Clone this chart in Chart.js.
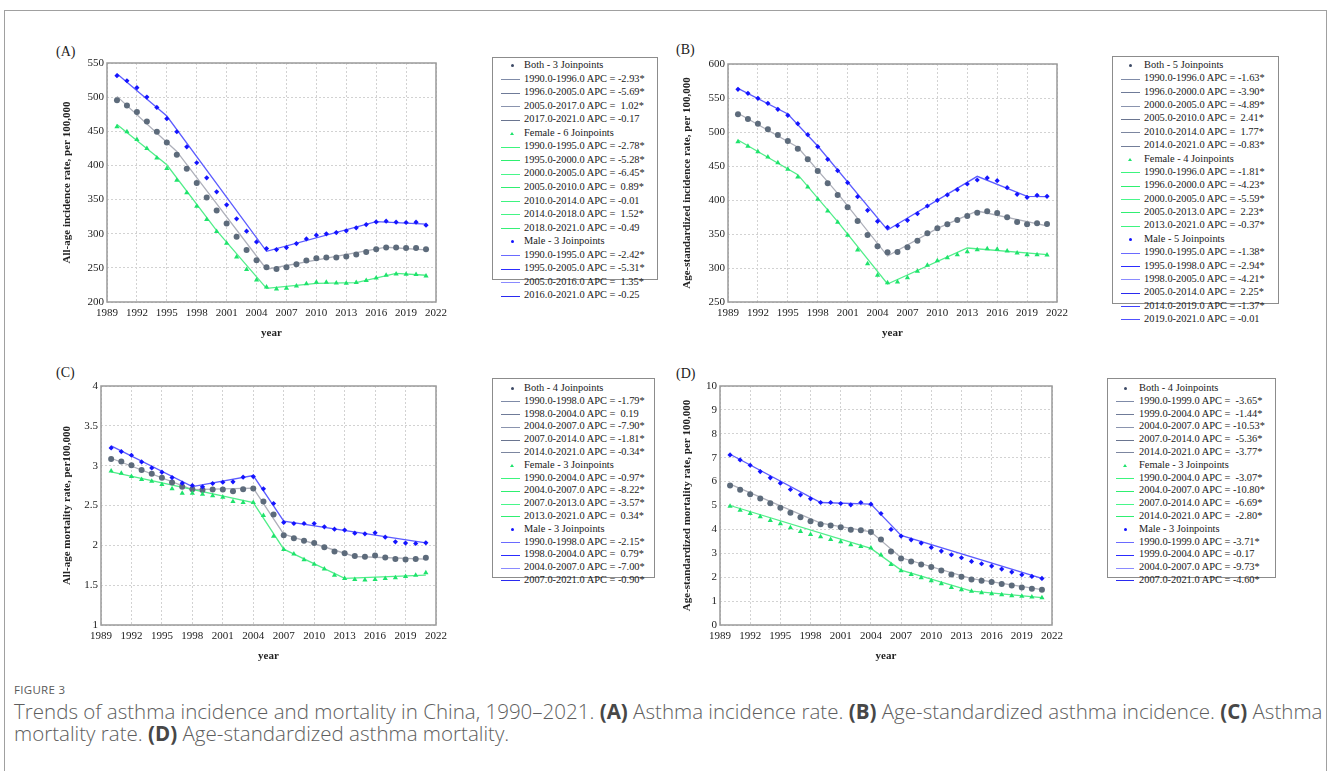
<!DOCTYPE html>
<html><head><meta charset="utf-8">
<script src="https://cdn.jsdelivr.net/npm/chart.js@4.4.0/dist/chart.umd.min.js"></script>
<style>
html,body{margin:0;padding:0;background:#fff;width:1328px;height:771px;overflow:hidden;}
#frame{position:absolute;left:4px;top:10px;width:1323px;height:820px;border:1px solid #a0a0a0;box-sizing:border-box;}
canvas{position:absolute;}
.plab{position:absolute;font-family:"Liberation Serif","Times New Roman",serif;font-size:14px;color:#222;line-height:16px;}
.leg{position:absolute;border:1px solid #8c8c8c;box-sizing:border-box;font-family:"Liberation Serif","Times New Roman",serif;font-size:10.4px;color:#1a1a1a;background:#fff;}
.row{position:absolute;white-space:pre;line-height:12px;height:12px;}
.seg{position:absolute;height:0;border-top:1.3px solid #777;}
.mk{position:absolute;}
#fig{position:absolute;left:14px;top:682px;font-family:"Open Sans",sans-serif;font-size:11.5px;color:#5a5a5a;letter-spacing:0.3px;}
#cap{position:absolute;left:14px;top:700px;font-family:"Open Sans",sans-serif;font-size:15px;color:#5e5e5e;line-height:22px;white-space:nowrap;font-weight:300;}
#cap b{font-weight:700;color:#474747;}
</style></head>
<body>
<div id="frame"></div>
<div class="plab" style="left:56px;top:44px">(A)</div>
<div class="plab" style="left:676px;top:42px">(B)</div>
<div class="plab" style="left:56px;top:365px">(C)</div>
<div class="plab" style="left:676px;top:366px">(D)</div>
<canvas id="cA"></canvas><canvas id="cB"></canvas><canvas id="cC"></canvas><canvas id="cD"></canvas>
<div id="fig">FIGURE 3</div>
<div id="cap"><span id="cap1">Trends of asthma incidence and mortality in China, 1990–2021. <b>(A)</b> Asthma incidence rate. <b>(B)</b> Age-standardized asthma incidence. <b>(C)</b> Asthma</span><br><span>mortality rate. <b>(D)</b> Age-standardized asthma mortality.</span></div>
<script>
// ---------- DATA ----------
const years = [1990,1991,1992,1993,1994,1995,1996,1997,1998,1999,2000,2001,2002,2003,2004,2005,2006,2007,2008,2009,2010,2011,2012,2013,2014,2015,2016,2017,2018,2019,2020,2021];

// (A) All-age incidence rate
const incBoth   = [495.3,487.9,478.2,464.5,449.3,433.7,415.6,395.1,374.1,353.0,334.0,314.9,295.4,276.3,261.1,250.9,248.4,250.9,255.3,260.7,264.1,265.1,265.1,266.5,269.5,273.4,277.3,279.7,279.7,279.2,279.2,277.3];
const incFemale = [456.6,449.3,438.1,424.9,410.7,395.6,378.4,359.9,340.3,320.8,303.2,286.1,266.0,247.5,232.3,222.1,219.1,220.1,223.5,226.9,228.9,228.9,227.9,227.4,228.4,231.4,235.3,239.2,241.1,240.6,240.2,238.2];
const incMale   = [531.4,524.0,513.8,500.1,485.0,468.4,449.3,427.3,403.9,381.9,361.3,342.3,321.8,303.7,288.0,278.3,276.8,279.7,285.6,292.4,297.8,299.8,301.7,304.2,308.6,313.4,317.3,318.3,316.9,316.4,316.9,312.5];
const incBothFitX = [1990,1996,2005,2017,2021];
const incBothFitY = [501.1,420.5,248.0,280.2,276.3];
const incFemaleFitX = [1990,1995,2000,2005,2010,2014,2018,2021];
const incFemaleFitY = [460.0,401.0,304.5,220.0,227.4,228.4,242.0,239.2];
const incMaleFitX = [1990,1995,2005,2016,2021];
const incMaleFitY = [534.4,472.3,274.3,317.8,313.9];

// (B) Age-standardized incidence rate
const asirBoth   = [526.0,519.1,512.3,503.9,495.6,486.8,475.5,459.8,442.6,424.5,407.4,389.2,369.1,348.5,331.9,323.0,323.5,330.4,340.2,351.0,358.3,364.2,370.6,376.5,381.4,383.3,380.9,374.5,367.6,364.2,365.7,364.7];
const asirFemale = [485.8,478.9,471.1,463.2,454.9,445.1,433.8,419.1,401.0,383.8,367.2,348.0,326.5,306.4,289.2,278.4,279.4,285.8,295.1,304.0,310.8,315.2,319.6,324.0,327.0,328.4,327.5,325.0,322.1,319.6,319.6,319.1];
const asirMale   = [562.7,556.9,549.5,542.2,533.3,524.5,512.3,496.1,478.4,459.8,443.1,425.5,404.9,384.8,368.6,359.8,362.3,370.1,379.9,391.2,399.5,407.4,415.2,423.5,429.4,432.4,428.4,418.1,408.3,403.9,406.9,405.4];
const asirBothFitX = [1990,1996,2000,2005,2010,2014,2021];
const asirBothFitY = [527.5,477.5,409.8,317.6,358.3,383.8,361.8];
const asirFemaleFitX = [1990,1996,2000,2005,2013,2021];
const asirFemaleFitY = [488.2,437.3,368.1,276.5,329.4,319.6];
const asirMaleFitX = [1990,1995,1998,2005,2014,2019,2021];
const asirMaleFitY = [564.2,526.5,479.4,355.9,434.8,405.4,404.9];

// (C) All-age mortality rate
const mortBoth   = [3.085,3.051,3.005,2.947,2.897,2.847,2.788,2.734,2.705,2.696,2.700,2.700,2.679,2.705,2.713,2.550,2.387,2.128,2.090,2.057,2.028,1.977,1.923,1.902,1.865,1.856,1.873,1.848,1.827,1.823,1.827,1.844];
const mortFemale = [2.934,2.905,2.863,2.826,2.805,2.763,2.709,2.654,2.654,2.642,2.621,2.604,2.550,2.537,2.537,2.374,2.115,1.948,1.890,1.819,1.764,1.702,1.626,1.585,1.572,1.564,1.572,1.585,1.593,1.610,1.626,1.656];
const mortMale   = [3.223,3.177,3.131,3.047,2.972,2.918,2.851,2.780,2.751,2.734,2.776,2.792,2.797,2.855,2.863,2.709,2.525,2.287,2.274,2.274,2.274,2.232,2.203,2.191,2.153,2.145,2.157,2.103,2.044,2.028,2.023,2.032];
const mortBothFitX = [1990,1998,2004,2007,2014,2021];
const mortBothFitY = [3.093,2.700,2.717,2.140,1.860,1.827];
const mortFemaleFitX = [1990,2004,2007,2013,2021];
const mortFemaleFitY = [2.922,2.537,1.952,1.585,1.626];
const mortMaleFitX = [1990,1998,2004,2007,2021];
const mortMaleFitY = [3.248,2.738,2.876,2.303,2.032];

// (D) Age-standardized mortality rate
const asmrBoth   = [5.836,5.655,5.474,5.292,5.097,4.903,4.694,4.513,4.345,4.220,4.164,4.095,3.983,3.969,3.886,3.579,3.078,2.786,2.660,2.535,2.423,2.284,2.117,2.019,1.908,1.852,1.797,1.713,1.657,1.574,1.518,1.476];
const asmrFemale = [4.972,4.805,4.666,4.526,4.373,4.234,4.067,3.914,3.788,3.691,3.579,3.482,3.357,3.287,3.217,2.925,2.535,2.270,2.117,1.978,1.852,1.727,1.574,1.476,1.407,1.351,1.309,1.267,1.226,1.198,1.170,1.142];
const asmrMale   = [7.117,6.908,6.685,6.421,6.156,5.933,5.669,5.446,5.279,5.125,5.125,5.084,5.028,5.125,5.056,4.666,3.997,3.719,3.565,3.426,3.245,3.092,2.939,2.813,2.660,2.563,2.465,2.340,2.214,2.103,2.033,1.950];
const asmrBothFitX = [1990,1999,2004,2007,2014,2021];
const asmrBothFitY = [5.891,4.262,3.900,2.813,1.936,1.476];
const asmrFemaleFitX = [1990,2004,2007,2014,2021];
const asmrFemaleFitY = [5.000,3.203,2.298,1.421,1.142];
const asmrMaleFitX = [1990,1999,2004,2007,2021];
const asmrMaleFitY = [7.145,5.125,5.056,3.747,1.950];

// Axis titles
const yTitleA = "All-age incidence rate, per 100,000";
const yTitleB = "Age-standardized incidence rate, per 100,000";
const yTitleC = "All-age mortality rate, per100,000";
const yTitleD = "Age-standardized mortality rate, per 100,000";
const xTitle = "year";

// Legend texts
const legendA = [
 ["hb","Both - 3 Joinpoints"],["b","1990.0-1996.0 APC = -2.93*"],["b","1996.0-2005.0 APC = -5.69*"],["b","2005.0-2017.0 APC =  1.02*"],["b","2017.0-2021.0 APC = -0.17"],
 ["hf","Female - 6 Joinpoints"],["f","1990.0-1995.0 APC = -2.78*"],["f","1995.0-2000.0 APC = -5.28*"],["f","2000.0-2005.0 APC = -6.45*"],["f","2005.0-2010.0 APC =  0.89*"],["f","2010.0-2014.0 APC = -0.01"],["f","2014.0-2018.0 APC =  1.52*"],["f","2018.0-2021.0 APC = -0.49"],
 ["hm","Male - 3 Joinpoints"],["m","1990.0-1995.0 APC = -2.42*"],["m","1995.0-2005.0 APC = -5.31*"],["m","2005.0-2016.0 APC =  1.35*"],["m","2016.0-2021.0 APC = -0.25"]
];
const legendB = [
 ["hb","Both - 5 Joinpoints"],["b","1990.0-1996.0 APC = -1.63*"],["b","1996.0-2000.0 APC = -3.90*"],["b","2000.0-2005.0 APC = -4.89*"],["b","2005.0-2010.0 APC =  2.41*"],["b","2010.0-2014.0 APC =  1.77*"],["b","2014.0-2021.0 APC = -0.83*"],
 ["hf","Female - 4 Joinpoints"],["f","1990.0-1996.0 APC = -1.81*"],["f","1996.0-2000.0 APC = -4.23*"],["f","2000.0-2005.0 APC = -5.59*"],["f","2005.0-2013.0 APC =  2.23*"],["f","2013.0-2021.0 APC = -0.37*"],
 ["hm","Male - 5 Joinpoints"],["m","1990.0-1995.0 APC = -1.38*"],["m","1995.0-1998.0 APC = -2.94*"],["m","1998.0-2005.0 APC = -4.21*"],["m","2005.0-2014.0 APC =  2.25*"],["m","2014.0-2019.0 APC = -1.37*"],["m","2019.0-2021.0 APC = -0.01"]
];
const legendC = [
 ["hb","Both - 4 Joinpoints"],["b","1990.0-1998.0 APC = -1.79*"],["b","1998.0-2004.0 APC =  0.19"],["b","2004.0-2007.0 APC = -7.90*"],["b","2007.0-2014.0 APC = -1.81*"],["b","2014.0-2021.0 APC = -0.34*"],
 ["hf","Female - 3 Joinpoints"],["f","1990.0-2004.0 APC = -0.97*"],["f","2004.0-2007.0 APC = -8.22*"],["f","2007.0-2013.0 APC = -3.57*"],["f","2013.0-2021.0 APC =  0.34*"],
 ["hm","Male - 3 Joinpoints"],["m","1990.0-1998.0 APC = -2.15*"],["m","1998.0-2004.0 APC =  0.79*"],["m","2004.0-2007.0 APC = -7.00*"],["m","2007.0-2021.0 APC = -0.90*"]
];
const legendD = [
 ["hb","Both - 4 Joinpoints"],["b","1990.0-1999.0 APC =  -3.65*"],["b","1999.0-2004.0 APC =  -1.44*"],["b","2004.0-2007.0 APC = -10.53*"],["b","2007.0-2014.0 APC =  -5.36*"],["b","2014.0-2021.0 APC =  -3.77*"],
 ["hf","Female - 3 Joinpoints"],["f","1990.0-2004.0 APC =  -3.07*"],["f","2004.0-2007.0 APC = -10.80*"],["f","2007.0-2014.0 APC =  -6.69*"],["f","2014.0-2021.0 APC =  -2.80*"],
 ["hm","Male - 3 Joinpoints"],["m","1990.0-1999.0 APC = -3.71*"],["m","1999.0-2004.0 APC = -0.17"],["m","2004.0-2007.0 APC = -9.73*"],["m","2007.0-2021.0 APC = -4.60*"]
];

// ---------- STYLE ----------
const C = {
  bothPt:'#5d6b7b', bothLn:'#aeb0ba',
  femPt:'#1ee36c', femLn:'#52ee8a',
  malePt:'#1414ff', maleLn:'#5c5cff'
};
const serif = '"Liberation Serif", "Times New Roman", serif';

function pts(xs, ys){ return xs.map((x,i)=>({x:x, y:ys[i]})); }

const framePlugin = {
  id:'frame',
  beforeDatasetsDraw(chart){
    const a = chart.chartArea, ctx = chart.ctx;
    ctx.save(); ctx.strokeStyle = '#9a9a9a'; ctx.lineWidth = 1.5;
    ctx.strokeRect(a.left, a.top, a.right-a.left, a.bottom-a.top);
    ctx.restore();
  }
};

function panel(id, plot, titleX, yMin, yMax, yStep, yTitle, both, fem, male, bothF, femF, maleF){
  const cv = document.getElementById(id);
  const left = titleX - 7, top = plot.t - 15, right = plot.r + 15, bottom = plot.b + 38;
  cv.style.left = left+'px'; cv.style.top = top+'px';
  cv.width = right-left; cv.height = bottom-top;
  const yW = plot.l - left;
  new Chart(cv, {
    type:'scatter',
    data:{ datasets:[
      {data:pts(years,male), pointStyle:'rectRot', pointRadius:2.6, backgroundColor:C.malePt, borderWidth:0, order:0},
      {data:pts(years,fem), pointStyle:'triangle', pointRadius:3, backgroundColor:C.femPt, borderWidth:0, order:0},
      {data:pts(years,both), pointStyle:'circle', pointRadius:3, backgroundColor:C.bothPt, borderWidth:0, order:0},
      {type:'line', data:pts(maleF[0],maleF[1]), borderColor:C.maleLn, borderWidth:1.3, pointRadius:0, fill:false, tension:0, order:1},
      {type:'line', data:pts(femF[0],femF[1]), borderColor:C.femLn, borderWidth:1.3, pointRadius:0, fill:false, tension:0, order:1},
      {type:'line', data:pts(bothF[0],bothF[1]), borderColor:C.bothLn, borderWidth:1.3, pointRadius:0, fill:false, tension:0, order:1}
    ]},
    options:{
      responsive:false, animation:false, devicePixelRatio:1,
      layout:{padding:{top:15,right:15,left:0,bottom:0}},
      plugins:{legend:{display:false}, tooltip:{enabled:false}},
      scales:{
        x:{type:'linear', min:1989, max:2022,
           ticks:{stepSize:3, color:'#222', font:{family:serif,size:11}, padding:5, maxRotation:0, autoSkip:false, callback:v=>String(v)},
           grid:{color:'#d2d2d2', lineWidth:1, drawTicks:false},
           border:{display:false, dash:[2,2]},
           title:{display:true, text:xTitle, color:'#222', font:{family:serif,size:11,weight:'bold'}, padding:{top:0,bottom:0}},
           afterFit:s=>{s.height=38;}},
        y:{min:yMin, max:yMax,
           ticks:{stepSize:yStep, color:'#222', font:{family:serif,size:11}, padding:3, callback:v=>String(v)},
           grid:{color:'#d2d2d2', lineWidth:1, drawTicks:false},
           border:{display:false, dash:[2,2]},
           title:{display:true, text:yTitle, color:'#222', font:{family:serif,size:11,weight:'bold'}, padding:{top:0,bottom:0}},
           afterFit:s=>{s.width=yW;}}
      }
    },
    plugins:[framePlugin]
  });
}

panel('cA',{l:107,t:63,r:437,b:302},68,200,550,50,yTitleA,incBoth,incFemale,incMale,[incBothFitX,incBothFitY],[incFemaleFitX,incFemaleFitY],[incMaleFitX,incMaleFitY]);
panel('cB',{l:728,t:64,r:1058,b:302},688,250,600,50,yTitleB,asirBoth,asirFemale,asirMale,[asirBothFitX,asirBothFitY],[asirFemaleFitX,asirFemaleFitY],[asirMaleFitX,asirMaleFitY]);
panel('cC',{l:101,t:386,r:437,b:625},68,1,4,0.5,yTitleC,mortBoth,mortFemale,mortMale,[mortBothFitX,mortBothFitY],[mortFemaleFitX,mortFemaleFitY],[mortMaleFitX,mortMaleFitY]);
panel('cD',{l:720,t:386,r:1053,b:625},688,0,10,1,yTitleD,asmrBoth,asmrFemale,asmrMale,[asmrBothFitX,asmrBothFitY],[asmrFemaleFitX,asmrFemaleFitY],[asmrMaleFitX,asmrMaleFitY]);

// ---------- LEGENDS ----------
const segCol = {b:['#7f8ba8','#6f7b98','#8a94ae','#6a7590','#7c86a0','#737e99'], f:['#3cf57e','#2ef070','#48f78a','#30ef72','#3ef480','#44f585','#36f078'], m:['#6a6aff','#2c2cff','#8a8aff','#2a2af0','#4040ff','#5050ff']};
function legend(items, box){
  const d = document.createElement('div'); d.className='leg';
  Object.assign(d.style,{left:box.x+'px',top:box.y+'px',width:box.w+'px',height:box.h+'px'});
  document.body.appendChild(d);
  let k = {b:0,f:0,m:0};
  items.forEach((it,i)=>{
    const cy = box.first + i*box.sp;
    const t = it[0];
    if (t[0]==='h'){
      const mk = document.createElement('div'); mk.className='mk';
      const s = t[1];
      if (s==='f'){
        Object.assign(mk.style,{left:(box.mx-2)+'px',top:(cy-2)+'px',width:0,height:0,borderLeft:'2px solid transparent',borderRight:'2px solid transparent',borderBottom:'3px solid '+C.femPt});
      } else {
        Object.assign(mk.style,{left:(box.mx-1.5)+'px',top:(cy-2)+'px',width:'3px',height:'3px',borderRadius:'50%',background:s==='b'?'#3d4a66':C.malePt});
      }
      d.appendChild(mk);
    } else {
      const sg = document.createElement('div'); sg.className='seg';
      const arr = segCol[t]; const col = arr[k[t]++ % arr.length];
      Object.assign(sg.style,{left:box.l0+'px',top:(cy-0.6)+'px',width:(box.l1-box.l0)+'px',borderTopColor:col});
      d.appendChild(sg);
    }
    const r = document.createElement('div'); r.className='row';
    r.textContent = it[1];
    Object.assign(r.style,{left:box.tx+'px',top:(cy-7)+'px'});
    d.appendChild(r);
  });
}
legend(legendA,{x:492,y:57,w:166,h:223,first:8,sp:13.55,l0:8,l1:27,tx:31,mx:19});
legend(legendB,{x:1112,y:56,w:167,h:248,first:9,sp:13.37,l0:8,l1:27,tx:31,mx:17});
legend(legendC,{x:492,y:378,w:163,h:200,first:10,sp:12.8,l0:8,l1:27,tx:31,mx:19});
legend(legendD,{x:1107,y:378,w:169,h:200,first:10,sp:12.8,l0:8,l1:26,tx:31,mx:17});

// fit caption line width
const c1 = document.getElementById('cap1');
const w = c1.getBoundingClientRect().width;
const fs = 15 * 1309 / w;
document.getElementById('cap').style.fontSize = fs.toFixed(2)+'px';
</script>
</body></html>
